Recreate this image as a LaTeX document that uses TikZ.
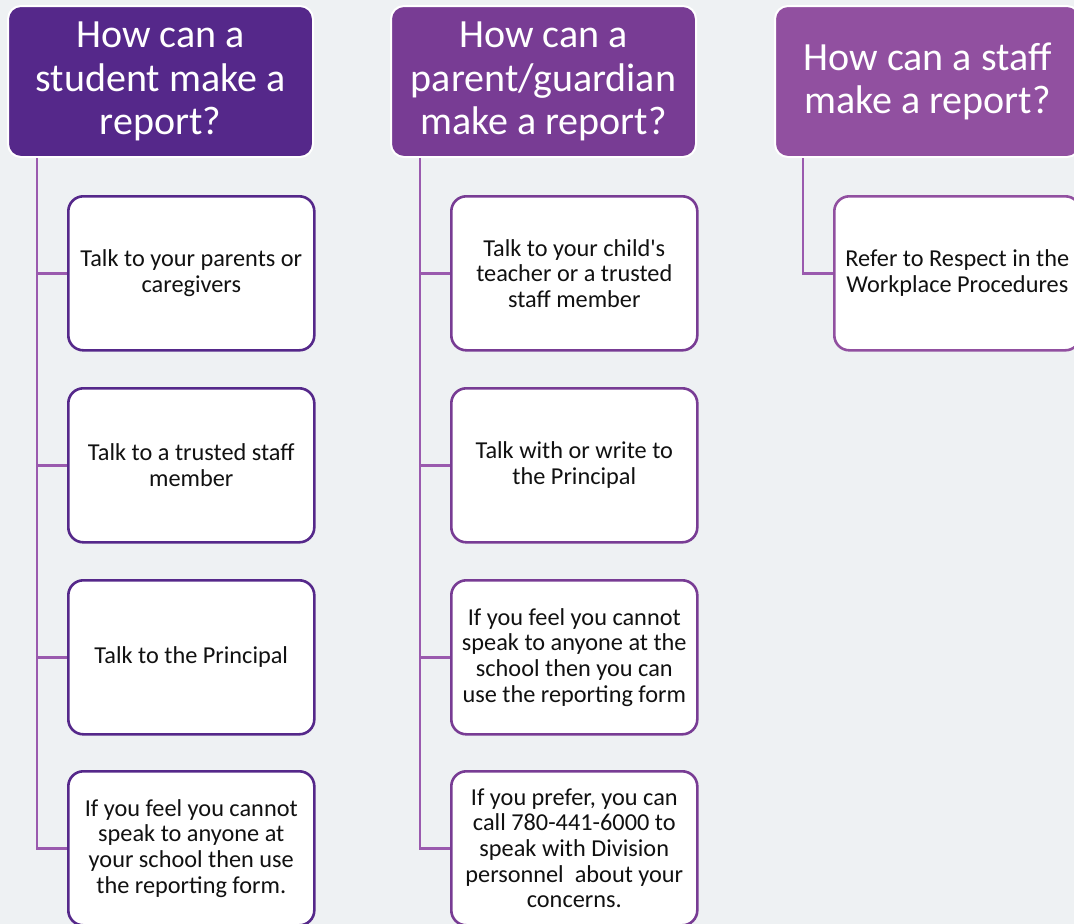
\documentclass[tikz,border=0pt]{standalone}
\usepackage{fontspec}
\setmainfont{Carlito}[Ligatures=TeXOff]
\definecolor{bgc}{HTML}{EEF1F3}
\definecolor{hA}{HTML}{55288A}
\definecolor{hB}{HTML}{783C94}
\definecolor{hC}{HTML}{9150A0}
\definecolor{conn}{HTML}{9A5AAE}
\definecolor{txt}{HTML}{111111}
\tikzset{
  x=1pt, y=-1pt,
  header/.style={fill=#1, draw=white, line width=2pt, rounded corners=13pt,
    minimum width=305pt, minimum height=151pt, anchor=north west,
    text=white, align=center, inner sep=0pt,
    font=\fontsize{40}{43.6}\selectfont},
  itembox/.style={fill=white, draw=#1, line width=2.6pt, rounded corners=15pt,
    minimum width=246pt, minimum height=154pt, anchor=north west,
    text=txt, align=center, inner sep=0pt,
    font=\fontsize{24.3}{25.6}\selectfont},
  link/.style={draw=conn, line width=2.5pt},
}
\begin{document}
\begin{tikzpicture}
\useasboundingbox (0,0) rectangle (1074,924);
\fill[bgc] (0,0) rectangle (1074,924);

% column headers
\node[header=hA] (h1) at (7,5) {How can a\\student make a\\report?};
\node[header=hB] (h2) at (390,5) {How can a\\parent/guardian\\make a report?};
\node[header=hC] (h3) at (774,5) {How can a staff\\make a report?};

% student options
\node[itembox=hA] (s1) at (67,195) {Talk to your parents or\\caregivers};
\node[itembox=hA] (s2) at (67,387) {Talk to a trusted staff\\member};
\node[itembox=hA] (s3) at (67,579) {Talk to the Principal};
\node[itembox=hA] (s4) at (67,770) {If you feel you cannot\\speak to anyone at\\your school then use\\the reporting form.};

% parent / guardian options
\node[itembox=hB] (p1) at (450,195) {Talk to your child's\\teacher or a trusted\\staff member};
\node[itembox=hB] (p2) at (450,387) {Talk with or write to\\the Principal};
\node[itembox=hB] (p3) at (450,579) {If you feel you cannot\\speak to anyone at the\\school then you can\\use the reporting form};
\node[itembox=hB] (p4) at (450,770) {If you prefer, you can\\call 780-441-6000 to\\speak with Division\\personnel\ \ about your\\concerns.};

% staff option
\node[itembox=hC] (t1) at (833,195) {Refer to Respect in the\\Workplace Procedures};

% spines and branches
\foreach \c in {s1,s2,s3,s4}
  \draw[link] ([xshift=30pt]h1.south west) |- (\c.west);
\foreach \c in {p1,p2,p3,p4}
  \draw[link] ([xshift=30pt]h2.south west) |- (\c.west);
\draw[link] ([xshift=29pt]h3.south west) |- (t1.west);
\end{tikzpicture}
\end{document}
